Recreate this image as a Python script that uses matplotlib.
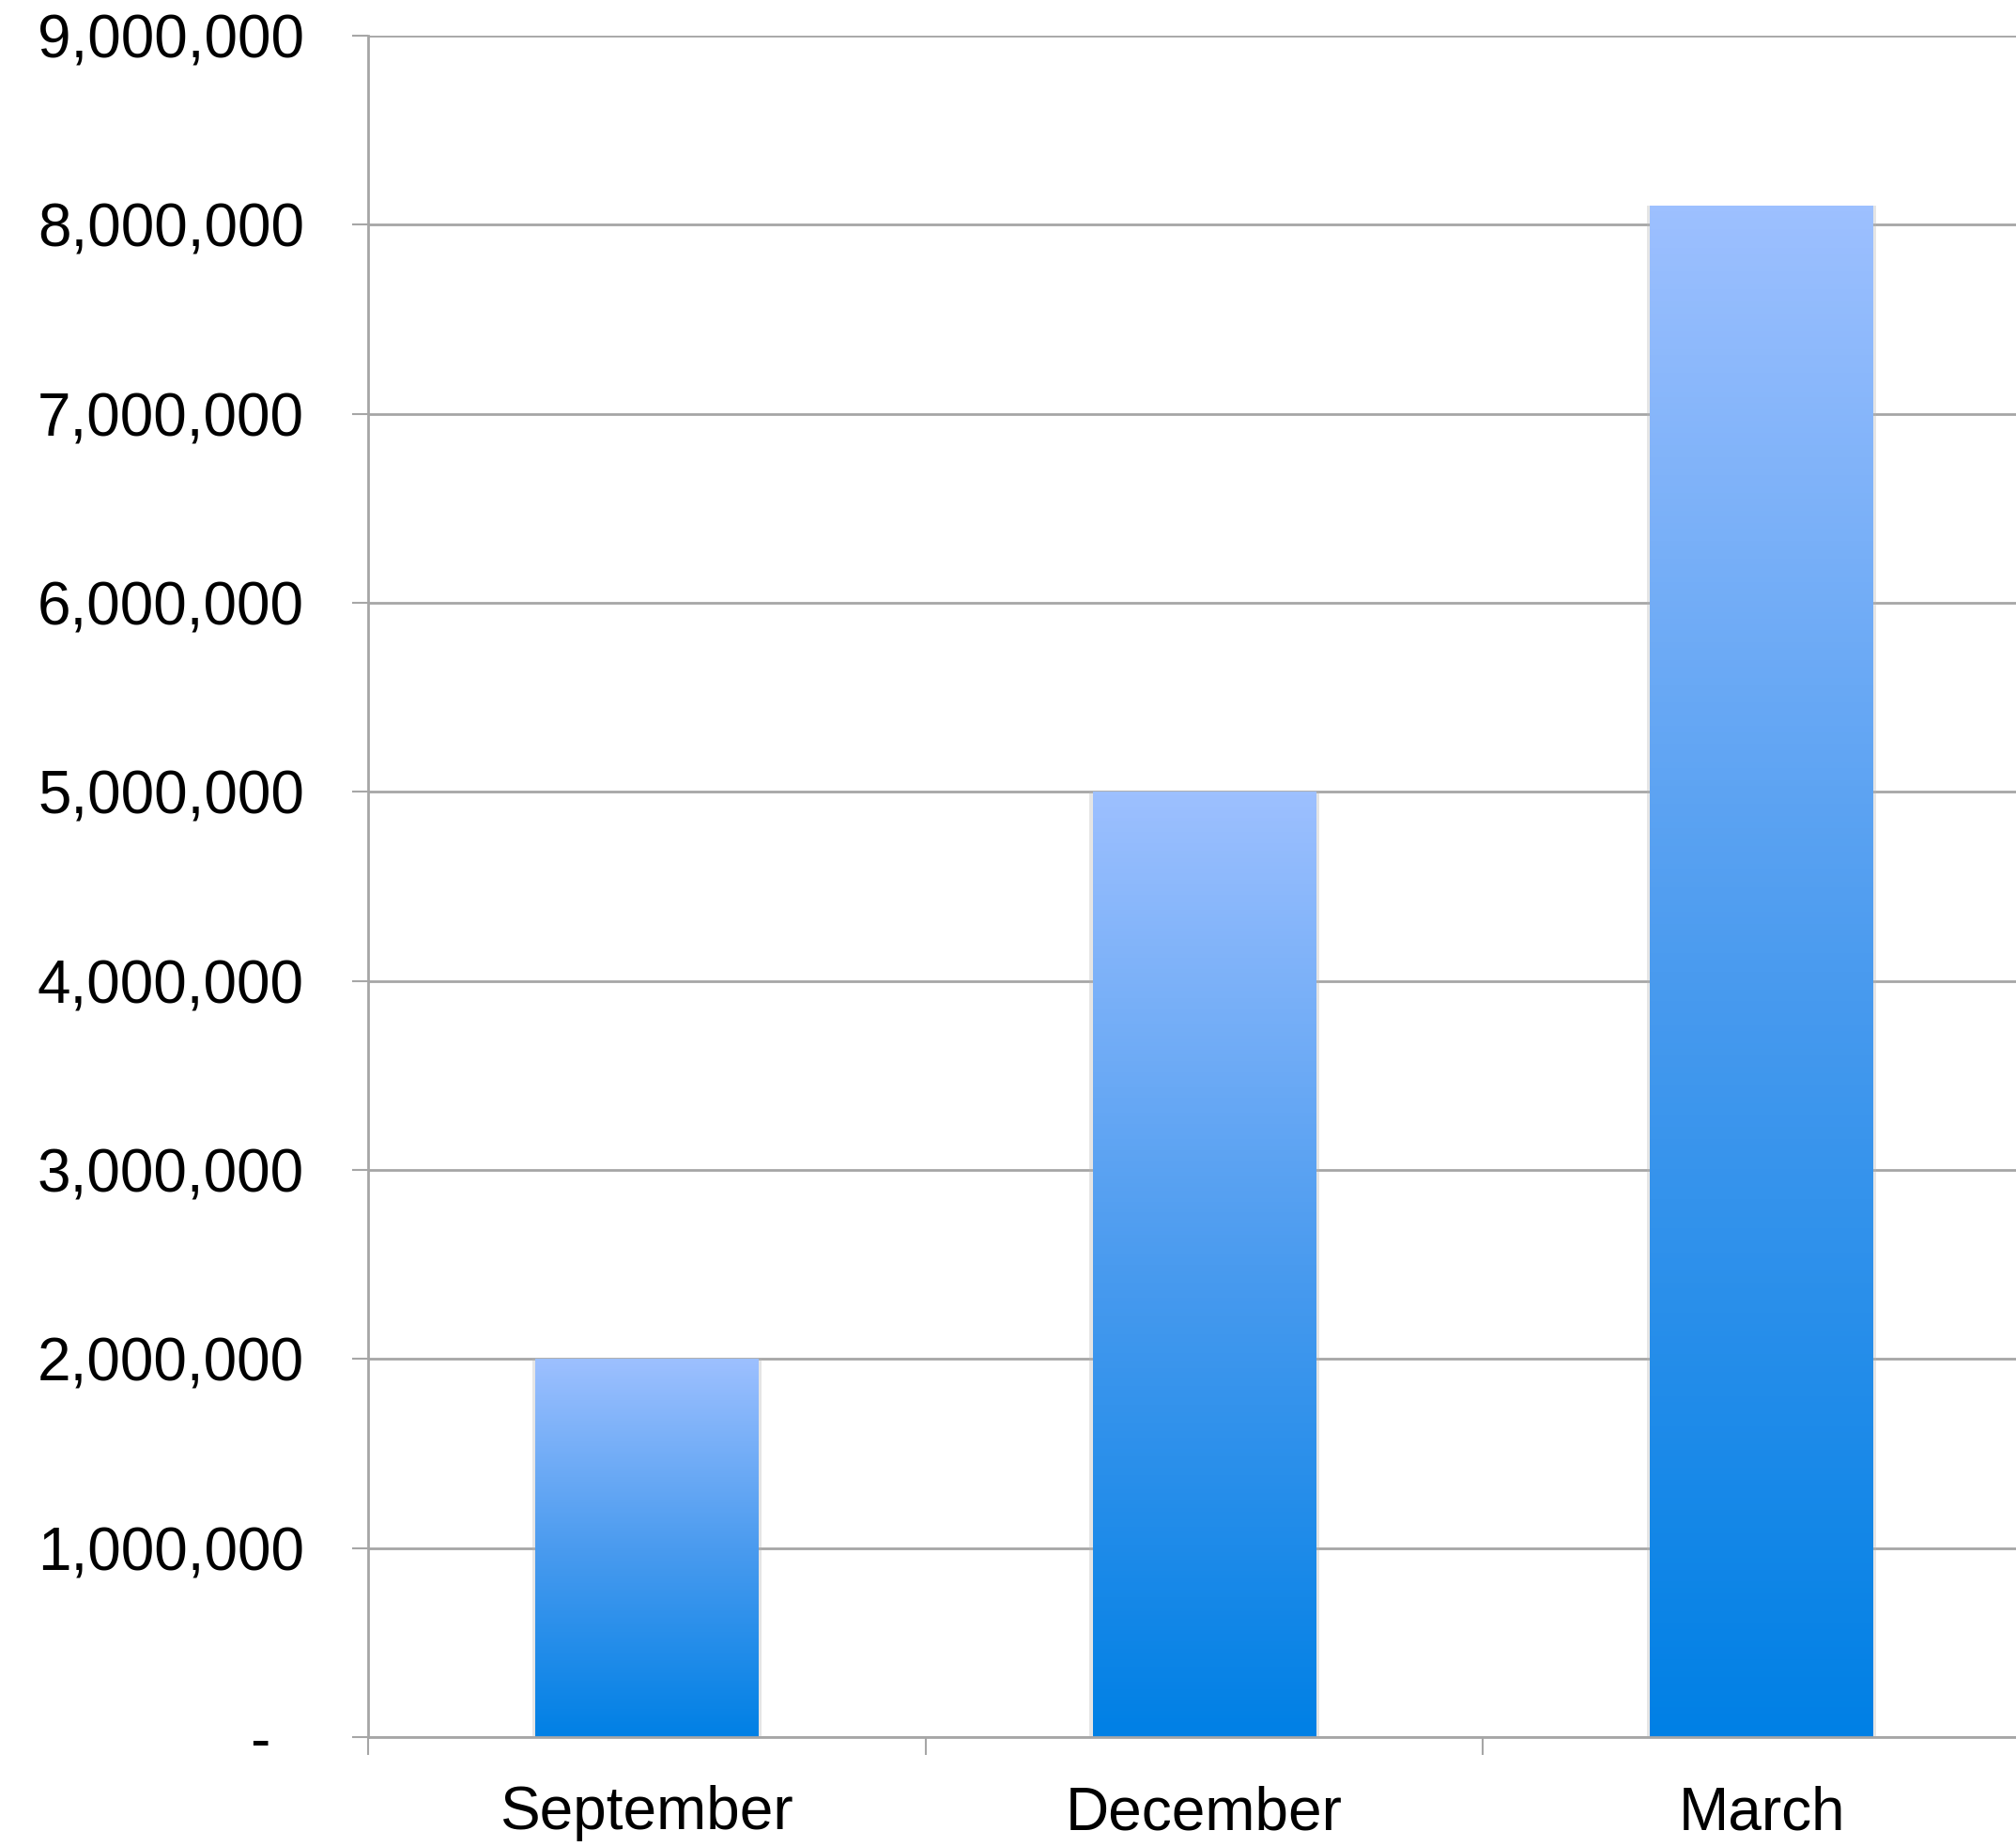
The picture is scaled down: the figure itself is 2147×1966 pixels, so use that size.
import numpy as np
import matplotlib.pyplot as plt
from matplotlib.colors import LinearSegmentedColormap
from matplotlib.ticker import FuncFormatter

# --- data ---
months = ["September", "December", "March"]
values = [2000000, 5000000, 8100000]
y_ticks = [0, 1000000, 2000000, 3000000, 4000000, 5000000, 6000000, 7000000, 8000000, 9000000]

plt.rcParams['font.family'] = ['Liberation Sans', 'DejaVu Sans']

fig = plt.figure(figsize=(21.47, 19.66), dpi=100)
# axes runs past the right edge of the picture, like the original crop
ax = fig.add_axes([392 / 2147, 116 / 1966, (2173 - 392) / 2147, (1850 - 38) / 1966])

grid_col = "#a6a6a6"
x = np.arange(len(months))
bar_w = 0.40

# soft shadow behind the bars
ax.bar(x, values, width=bar_w + 0.012, color="#b5b5b5", alpha=0.35, zorder=2)
bars = ax.bar(x, values, width=bar_w, color="none", zorder=3)

# vertical gradient inside each bar
grad_cmap = LinearSegmentedColormap.from_list("blu", ["#0080e5", "#4a9bef", "#9dc0ff"])
grad = np.linspace(0, 1, 256).reshape(-1, 1)
for b in bars:
    x0, y0 = b.get_x(), b.get_y()
    im = ax.imshow(grad, cmap=grad_cmap, origin="lower", aspect="auto",
                   extent=[x0, x0 + b.get_width(), y0, y0 + b.get_height()], zorder=3)
    im.set_clip_path(b)

ax.set_xlim(-0.5, len(months) - 0.5)
ax.set_ylim(0, 9000000)

ax.set_yticks(y_ticks)
ax.yaxis.set_major_formatter(FuncFormatter(lambda v, p: "-  " if v == 0 else f"{int(v):,}"))
ax.yaxis.grid(True, color=grid_col, linewidth=2, zorder=1)
ax.set_axisbelow(True)

ax.set_xticks(x)
ax.set_xticklabels(months)
ax.set_xticks(np.arange(len(months) + 1) - 0.5, minor=True)

ax.tick_params(axis="y", which="major", length=12, width=1.5, color=grid_col,
               labelsize=46, pad=37)
ax.tick_params(axis="x", which="major", length=0, labelsize=46, pad=37)
ax.tick_params(axis="x", which="minor", length=14, width=1.5, color=grid_col)

for s in ["top", "right"]:
    ax.spines[s].set_visible(False)
for s in ["left", "bottom"]:
    ax.spines[s].set_color(grid_col)
    ax.spines[s].set_linewidth(2)
    ax.spines[s].set_zorder(4)

fig.savefig("out.png", dpi=100)
